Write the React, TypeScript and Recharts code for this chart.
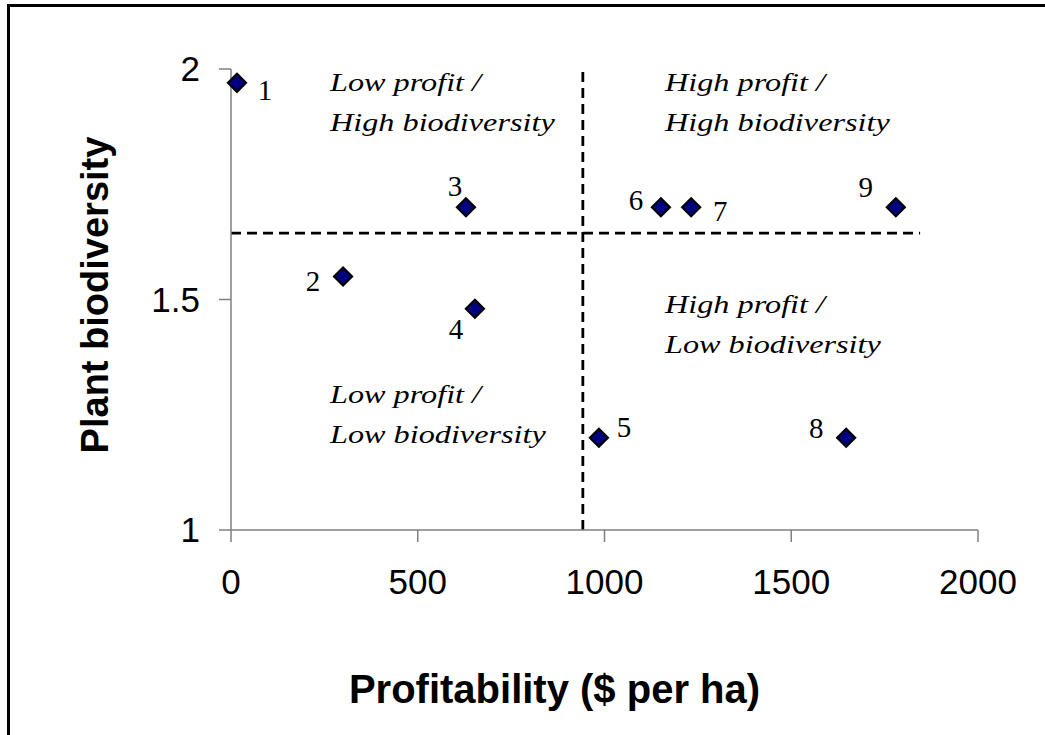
import { ScatterChart, Scatter, XAxis, YAxis, ReferenceLine } from "recharts";

const siteIds = [1, 2, 3, 4, 5, 6, 7, 8, 9];
const profitability = [16, 300, 629, 653, 985, 1151, 1232, 1647, 1780];
const biodiversity = [1.97, 1.55, 1.7, 1.48, 1.2, 1.7, 1.7, 1.2, 1.7];

const xTicks = [0, 500, 1000, 1500, 2000];
const yTicks = [1, 1.5, 2];

const profitSplit = 942;
const biodiversitySplit = 1.644;
const splitLineEnd = 1845;

const quadrantTop = ["Low profit /", "High profit /", "High profit /", "Low profit /"];
const quadrantBottom = ["High biodiversity", "High biodiversity", "Low biodiversity", "Low biodiversity"];
const quadrantProfit = [265, 1162, 1162, 265];
const quadrantBiodiv = [1.952, 1.952, 1.471, 1.275];

// pixel nudges for the site numbers
const labelDx = [28, -30, -11, -19, 25, -25, 29, -30, -30];
const labelDy = [8, 6, -20, 21, -10, -6, 5, -9, -19];

const sites = siteIds.map((id, i) => ({ id, x: profitability[i], y: biodiversity[i], i }));
const quadrants = quadrantTop.map((top, i) => ({
  top,
  bottom: quadrantBottom[i],
  x: quadrantProfit[i],
  y: quadrantBiodiv[i],
}));

const SANS = "'Liberation Sans', Arial, sans-serif";
const SERIF = "'Liberation Serif', 'Times New Roman', serif";

function SiteMarker(props: any) {
  const { cx, cy, payload } = props;
  const r = 9;
  const nx = cx + labelDx[payload.i];
  const ny = cy + labelDy[payload.i];
  return (
    <g>
      <polygon
        points={`${cx},${cy - r} ${cx + r},${cy} ${cx},${cy + r} ${cx - r},${cy}`}
        fill="#000080"
        stroke="#000"
        strokeWidth={2.2}
      />
      <text x={nx} y={ny + 9} textAnchor="middle" fontFamily={SERIF} fontSize={29} fill="#000">
        {payload.id}
      </text>
    </g>
  );
}

// the original text is a bit stretched sideways
function QuadrantNote(props: any) {
  const { cx, cy, payload } = props;
  return (
    <g transform={`translate(${cx} ${cy}) scale(1.29 1)`}>
      <text x={0} y={0} fontFamily={SERIF} fontStyle="italic" fontSize={25} fill="#000">
        <tspan x={0} y={0}>{payload.top}</tspan>
        <tspan x={0} y={40}>{payload.bottom}</tspan>
      </text>
    </g>
  );
}

export default function App() {
  return (
    <div style={{ position: "absolute", left: 0, top: 0, width: 1045, height: 735, overflow: "hidden", background: "#fff" }}>
      <div
        style={{
          position: "absolute",
          left: 7,
          top: 4,
          width: 1100,
          height: 800,
          borderTop: "3px solid #000",
          borderLeft: "3px solid #000",
        }}
      />
      <div style={{ position: "absolute", left: 0, top: 0 }}>
        <ScatterChart width={1045} height={735} margin={{ top: 69, right: 67, bottom: 145, left: 151 }}>
          <XAxis
            type="number"
            dataKey="x"
            domain={[0, 2000]}
            ticks={xTicks}
            height={60}
            stroke="#7f7f7f"
            strokeWidth={1.5}
            tickSize={12}
            tickMargin={27}
            tick={{ fill: "#000", fontSize: 35, fontFamily: SANS }}
            label={{
              content: ({ viewBox }: any) => (
                <text
                  x={(viewBox?.x ?? 231) + (viewBox?.width ?? 747) / 2 - 50}
                  y={703}
                  textAnchor="middle"
                  fontFamily={SANS}
                  fontWeight="bold"
                  fontSize={40}
                  fill="#000"
                >
                  Profitability ($ per ha)
                </text>
              ),
            }}
          />
          <YAxis
            type="number"
            dataKey="y"
            domain={[1, 2]}
            ticks={yTicks}
            width={80}
            stroke="#7f7f7f"
            strokeWidth={1.5}
            tickSize={12}
            tickMargin={19}
            tick={{ fill: "#000", fontSize: 35, fontFamily: SANS }}
            label={{
              content: () => (
                <text
                  x={108}
                  y={295}
                  transform="rotate(-90 108 295)"
                  textAnchor="middle"
                  fontFamily={SANS}
                  fontWeight="bold"
                  fontSize={38}
                  fill="#000"
                >
                  Plant biodiversity
                </text>
              ),
            }}
          />
          <ReferenceLine x={profitSplit} stroke="#000" strokeWidth={2.8} strokeDasharray="10 6" />
          <ReferenceLine
            segment={[
              { x: 0, y: biodiversitySplit },
              { x: splitLineEnd, y: biodiversitySplit },
            ]}
            stroke="#000"
            strokeWidth={2.8}
            strokeDasharray="10 6"
          />
          <Scatter data={quadrants} shape={<QuadrantNote />} isAnimationActive={false} />
          <Scatter data={sites} shape={<SiteMarker />} isAnimationActive={false} />
        </ScatterChart>
      </div>
    </div>
  );
}
